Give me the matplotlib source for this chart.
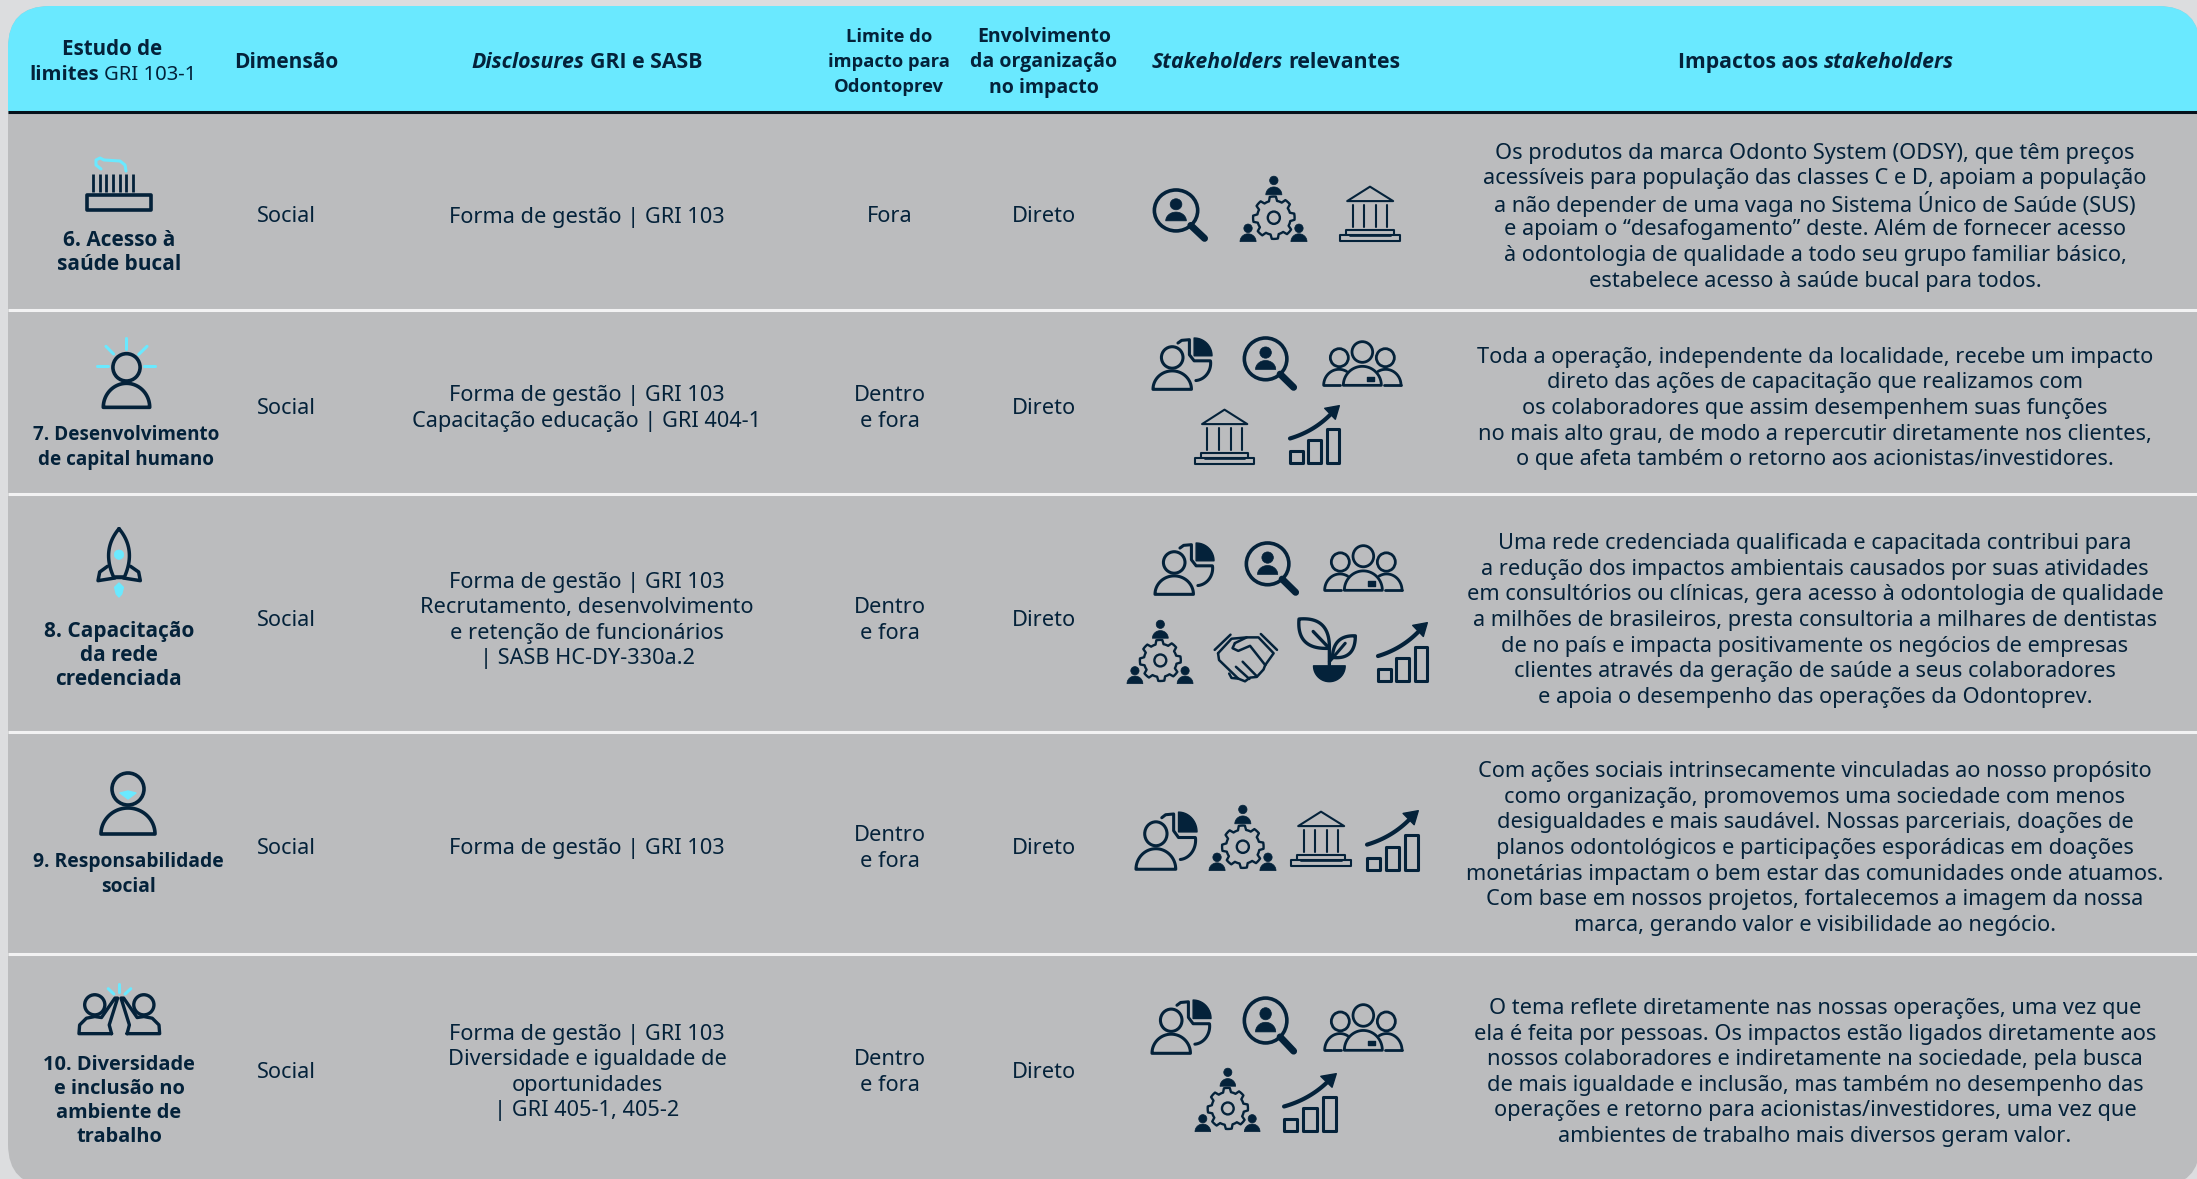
import numpy as np
import matplotlib
matplotlib.use("Agg")
import matplotlib.pyplot as plt
from matplotlib.patches import FancyBboxPatch, Ellipse, Polygon, Rectangle

W, H = 2197, 1179
NAVY = "#04223A"; CYAN = "#6AE9FF"; GREY = "#BBBCBE"; BG = "#DCDDDF"
plt.rcParams['font.family'] = ['Noto Sans', 'DejaVu Sans']
BOLDF = ['Open Sans', 'DejaVu Sans']

row_seps = [310, 494, 732, 954]
row_centers = [214.5, 406, 618, 846, 1070]

topics = [["6. Acesso à", "saúde bucal"],
          ["7. Desenvolvimento", "de capital humano"],
          ["8. Capacitação", "da rede", "credenciada"],
          ["9. Responsabilidade", "social"],
          ["10. Diversidade", "e inclusão no", "ambiente de", "trabalho"]]
topic_x = [119, 126, 119, 128, 119]
topic_y = [238, 433, 629, 860, 1062]
topic_size = [15.0, 13.6, 15.0, 13.9, 14.4]
dimension = ["Social"] * 5
disclosures = [["Forma de gestão | GRI 103"],
               ["Forma de gestão | GRI 103", "Capacitação educação | GRI 404-1"],
               ["Forma de gestão | GRI 103", "Recrutamento, desenvolvimento",
                "e retenção de funcionários", "| SASB HC-DY-330a.2"],
               ["Forma de gestão | GRI 103"],
               ["Forma de gestão | GRI 103", "Diversidade e igualdade de",
                "oportunidades", "| GRI 405-1, 405-2"]]
limite = [["Fora"], ["Dentro", "e fora"], ["Dentro", "e fora"], ["Dentro", "e fora"], ["Dentro", "e fora"]]
envolvimento = ["Direto"] * 5
impactos = [
    ["Os produtos da marca Odonto System (ODSY), que têm preços",
     "acessíveis para população das classes C e D, apoiam a população",
     "a não depender de uma vaga no Sistema Único de Saúde (SUS)",
     "e apoiam o “desafogamento” deste. Além de fornecer acesso",
     "à odontologia de qualidade a todo seu grupo familiar básico,",
     "estabelece acesso à saúde bucal para todos."],
    ["Toda a operação, independente da localidade, recebe um impacto",
     "direto das ações de capacitação que realizamos com",
     "os colaboradores que assim desempenhem suas funções",
     "no mais alto grau, de modo a repercutir diretamente nos clientes,",
     "o que afeta também o retorno aos acionistas/investidores."],
    ["Uma rede credenciada qualificada e capacitada contribui para",
     "a redução dos impactos ambientais causados por suas atividades",
     "em consultórios ou clínicas, gera acesso à odontologia de qualidade",
     "a milhões de brasileiros, presta consultoria a milhares de dentistas",
     "de no país e impacta positivamente os negócios de empresas",
     "clientes através da geração de saúde a seus colaboradores",
     "e apoia o desempenho das operações da Odontoprev."],
    ["Com ações sociais intrinsecamente vinculadas ao nosso propósito",
     "como organização, promovemos uma sociedade com menos",
     "desigualdades e mais saudável. Nossas parceriais, doações de",
     "planos odontológicos e participações esporádicas em doações",
     "monetárias impactam o bem estar das comunidades onde atuamos.",
     "Com base em nossos projetos, fortalecemos a imagem da nossa",
     "marca, gerando valor e visibilidade ao negócio."],
    ["O tema reflete diretamente nas nossas operações, uma vez que",
     "ela é feita por pessoas. Os impactos estão ligados diretamente aos",
     "nossos colaboradores e indiretamente na sociedade, pela busca",
     "de mais igualdade e inclusão, mas também no desempenho das",
     "operações e retorno para acionistas/investidores, uma vez que",
     "ambientes de trabalho mais diversos geram valor."]]

fig = plt.figure(figsize=(W/100, H/100), dpi=100, facecolor=BG)
ax = fig.add_axes([0, 0, 1, 1])
ax.set_xlim(0, W); ax.set_ylim(H, 0); ax.axis("off")

panel = FancyBboxPatch((50, 48), 2108, 1096, boxstyle="round,pad=42,rounding_size=42",
                       fc=GREY, ec="none", zorder=0)
ax.add_patch(panel)
hdr = Rectangle((0, 0), W, 111, fc=CYAN, ec="none", zorder=0.5)
ax.add_patch(hdr); hdr.set_clip_path(panel)
ax.plot([8, W], [112, 112], color="#05101A", lw=2.2, solid_capstyle="butt", zorder=1)
for y in row_seps:
    ax.plot([8, W], [y, y], color="#F2F2F3", lw=2.2, solid_capstyle="butt", zorder=1)

BODY = 15.65; HEAD = 15.3

def lines(items, cx, cy, step=25.6, size=BODY, weight="normal", family=None):
    n = len(items)
    for i, s in enumerate(items):
        ax.text(cx, cy + (i - (n-1)/2)*step, s, ha="center", va="center_baseline", fontsize=size,
                color=NAVY, fontweight=weight, zorder=3, family=family or plt.rcParams['font.family'])

def rich(parts, cx, cy, size=HEAD):
    r = fig.canvas.get_renderer()
    objs = []; total = 0
    for s, w, st in parts:
        fam = BOLDF if w == "bold" else plt.rcParams['font.family']
        t = ax.text(0, cy, s, fontsize=size, fontweight=w, fontstyle=st, color=NAVY, family=fam,
                    va="center_baseline", ha="left", zorder=3)
        wd = t.get_window_extent(r).width
        objs.append((t, wd)); total += wd
    gap = size * 0.36
    total += gap * (len(parts) - 1)
    x = cx - total/2
    for t, wd in objs:
        t.set_x(x); x += wd + gap

B = "bold"; RG = "normal"
rich([("Estudo de", B, "normal")], 112, 47, size=14.8)
rich([("limites", B, "normal"), ("GRI 103-1", RG, "normal")], 113, 72, size=14.6)
rich([("Dimensão", B, "normal")], 286, 60, size=15.0)
rich([("Disclosures", B, "italic"), ("GRI e SASB", B, "normal")], 587, 60)
lines(["Limite do", "impacto para", "Odontoprev"], 889, 60, step=25, size=13.2, weight=B, family=BOLDF)
lines(["Envolvimento", "da organização", "no impacto"], 1044, 60, step=25, size=14.0, weight=B, family=BOLDF)
rich([("Stakeholders", B, "italic"), ("relevantes", B, "normal")], 1276, 60)
rich([("Impactos aos", B, "normal"), ("stakeholders", B, "italic")], 1816, 60)

for i in range(5):
    cy = row_centers[i]
    for j, s in enumerate(topics[i]):
        ax.text(topic_x[i], topic_y[i] + j*24, s, ha="center", va="center_baseline", fontsize=topic_size[i],
                color=NAVY, fontweight="bold", family=BOLDF, zorder=3)
    ax.text(286, cy, dimension[i], ha="center", va="center_baseline", fontsize=BODY, color=NAVY, zorder=3)
    lines(disclosures[i], 587, cy)
    lines(limite[i], 890, cy)
    ax.text(1044, cy, envolvimento[i], ha="center", va="center_baseline", fontsize=BODY, color=NAVY, zorder=3)
    lines(impactos[i], 1815, cy)

class Ic:
    def __init__(self, x0, y0, sx, sy, ox=0, oy=0):
        self.x0, self.y0, self.sx, self.sy, self.ox, self.oy = x0, y0, sx, sy, ox, oy
    def P(self, pts):
        p = np.asarray(pts, float)
        return np.c_[self.x0 + (p[:, 0]-self.ox)*self.sx, self.y0 + (p[:, 1]-self.oy)*self.sy]
    def line(self, pts, lw=2.2, c=NAVY, cap="round"):
        q = self.P(pts)
        ax.plot(q[:, 0], q[:, 1], color=c, lw=lw, solid_capstyle=cap, solid_joinstyle="round", zorder=4)
    def poly(self, pts, fill=False, lw=2.2, c=NAVY):
        ax.add_patch(Polygon(self.P(pts), closed=True, fc=c if fill else "none", ec=c, lw=lw,
                             joinstyle="round", zorder=4))
    def curve(self, p0, p1, p2, **k):
        t = np.linspace(0, 1, 30)[:, None]
        a, b, c_ = map(lambda v: np.array(v, float), (p0, p1, p2))
        self.line((1-t)**2*a + 2*t*(1-t)*b + t*t*c_, **k)
    def arc(self, cx, cy, rx, ry, a0, a1, **k):
        t = np.radians(np.linspace(a0, a1, 60))
        self.line(np.c_[cx + rx*np.cos(t), cy - ry*np.sin(t)], **k)
    def circ(self, cx, cy, r, fill=False, lw=2.2, c=NAVY):
        ax.add_patch(Ellipse(tuple(self.P([[cx, cy]])[0]), 2*r*self.sx, 2*r*self.sy,
                             fc=c if fill else "none", ec=c, lw=lw, zorder=4))
    def dome(self, cx, base, rx, ry, fill=False, lw=2.2, c=NAVY):
        t = np.radians(np.linspace(0, 180, 50))
        self.poly(np.c_[cx + rx*np.cos(t), base - ry*np.sin(t)], fill=fill, lw=lw, c=c)

def ic(box, w, h, ox=0, oy=0):
    x0, y0, x1, y1 = box
    return Ic(x0, y0, (x1-x0)/w, (y1-y0)/h, ox, oy)

def pie_person(box):
    g = ic(box, 175, 158, 160, 112)
    g.circ(217, 173, 32); g.dome(217, 268, 57, 55)
    t = np.radians(np.linspace(0, 90, 30))
    g.poly(np.r_[[[282, 168]], np.c_[282+53*np.cos(t), 168-53*np.sin(t)]], fill=True, lw=1)
    g.line([[234, 130], [245, 122], [268, 120], [268, 165], [282, 183], [330, 183]])
    g.arc(283, 190, 48, 52, 5, -85)

def magnifier(box):
    g = ic(box, 160, 160, 430, 110)
    g.circ(497, 176, 63, lw=2.6)
    g.circ(497, 157, 17, fill=True, lw=0.5)
    g.dome(497, 208, 30, 27, fill=True, lw=0.5)
    g.line([[540, 222], [580, 262]], lw=5)

def group(box):
    g = ic(box, 237, 132, 668, 125)
    g.circ(786, 155, 31, lw=2); g.circ(717, 172, 27, lw=2); g.circ(855, 172, 27, lw=2)
    g.dome(786, 255, 57, 57, lw=2)
    g.arc(716, 255, 46, 48, 180, 60, lw=2); g.line([[670, 255], [720, 255]], lw=2)
    g.arc(856, 255, 46, 48, 0, 120, lw=2); g.line([[852, 255], [902, 255]], lw=2)
    g.poly([[800, 229], [820, 229], [820, 241], [800, 241]], fill=True, lw=1)

def bank(box):
    g = ic(box, 182, 167, 283, 328)
    L = 1.5
    g.poly([[374, 330], [307, 373], [442, 373]], lw=L)
    for x in [323, 357, 392, 425]:
        g.line([[x, 385], [x, 450]], lw=L)
    g.line([[303, 473], [303, 460], [445, 460], [445, 473]], lw=L)
    g.poly([[285, 475], [463, 475], [463, 493], [285, 493]], lw=L)
    g.line([[315, 478], [435, 478]], lw=1.2)

def chart(box):
    g = ic(box, 153, 178, 567, 315)
    g.poly([[570, 455], [608, 455], [608, 491], [570, 491]], lw=2.2)
    g.poly([[625, 422], [662, 422], [662, 491], [625, 491]], lw=2.2)
    g.poly([[680, 388], [717, 388], [717, 491], [680, 491]], lw=2.2)
    g.curve([570, 416], [640, 395], [690, 345], lw=3)
    g.poly([[718, 317], [674, 325], [706, 358]], fill=True, lw=1)

def gear(box):
    g = ic(box, 200, 193, 80, 960)
    n = 8
    a = np.linspace(0, 2*np.pi, 8*n+1)[:-1]
    r = np.roll(np.array([50, 50, 50, 50, 62, 62, 62, 62]*n, float), 2)
    g.poly(np.c_[181 + r*np.cos(a), 1082 + r*np.sin(a)], lw=1.7)
    g.circ(181, 1082, 18, lw=1.7)
    for cx, hy, base in [(181, 973, 1015), (104, 1113, 1152), (256, 1113, 1152)]:
        g.circ(cx, hy, 12.5, fill=True, lw=0.5)
        g.dome(cx, base, 24, 23, fill=True, lw=0.5)

def handshake(box):
    g = ic(box, 187, 142, 343, 1003)
    L = 1.8
    g.line([[345, 1050], [392, 1005]], lw=L); g.line([[482, 1003], [530, 1050]], lw=L)
    g.line([[355, 1060], [395, 1017], [440, 1013], [475, 1013], [520, 1060], [495, 1095]], lw=L)
    g.line([[355, 1060], [358, 1080], [415, 1135], [435, 1143], [450, 1132], [470, 1130], [490, 1108], [495, 1095]], lw=L)
    g.line([[405, 1030], [398, 1045], [415, 1053], [450, 1038], [495, 1095]], lw=L)
    g.line([[405, 1030], [440, 1013]], lw=L)
    g.line([[428, 1085], [470, 1128]], lw=L); g.line([[408, 1100], [448, 1136]], lw=L)
    g.line([[388, 1120], [395, 1133], [415, 1135]], lw=L)

def plant(box):
    g = ic(box, 172, 190, 595, 955)
    t = np.linspace(0, 1, 30)[:, None]
    a, b, c_ = np.array([598., 958.]), np.array([690., 950.]), np.array([688., 1045.])
    d = np.array([590., 1050.])
    g.poly(np.r_[(1-t)**2*a+2*t*(1-t)*b+t*t*c_, (1-t)**2*c_+2*t*(1-t)*d+t*t*a], lw=2.4)
    g.line([[640, 995], [688, 1045], [688, 1095]], lw=2.4)
    a, b, c_ = np.array([765., 1008.]), np.array([700., 1005.]), np.array([697., 1072.])
    d = np.array([765., 1080.])
    g.poly(np.r_[(1-t)**2*a+2*t*(1-t)*b+t*t*c_, (1-t)**2*c_+2*t*(1-t)*d+t*t*a], lw=2.4)
    g.line([[688, 1085], [735, 1030]], lw=2.2)
    u = np.radians(np.linspace(180, 360, 40))
    g.poly(np.c_[688 + 47*np.cos(u), 1097 - 47*np.sin(u)], fill=True, lw=1)

def toothbrush(box):
    g = ic(box, 66, 54, 86, 157)
    g.poly([[87, 195], [151, 195], [151, 210], [87, 210]], lw=2.6)
    for x in np.linspace(93, 133, 7):
        g.line([[x, 174], [x, 192]], lw=2, cap="butt")
    g.line([[101, 169], [96, 165], [96, 160], [100, 158], [104, 160], [120, 161], [125, 165], [126, 171]], lw=2.2, c=CYAN)

def person_rays(box):
    g = ic(box, 175, 213, 110, 55)
    g.circ(199, 143, 41, lw=2.6)
    g.dome(199, 263, 70, 72, lw=2.6)
    for p, q in [((199, 55), (199, 87)), ((137, 80), (160, 103)), ((261, 80), (236, 104)),
                 ((110, 140), (142, 140)), ((252, 138), (284, 138))]:
        g.line([p, q], lw=2.2, c=CYAN)

def rocket(box):
    g = ic(box, 130, 207, 52, 40)
    t = np.linspace(0, 1, 25)[:, None]
    top = np.array([117., 42.]); bl = np.array([101., 187.]); br = np.array([133., 187.])
    L = (1-t)**2*top + 2*t*(1-t)*np.array([65., 105.]) + t*t*bl
    R = (1-t)**2*br + 2*t*(1-t)*np.array([169., 105.]) + t*t*top
    g.line(np.r_[L, R], lw=2.5)
    g.line([[101, 187], [133, 187]], lw=2.5)
    g.line([[83, 155], [60, 172], [55, 198], [105, 190]], lw=2.5)
    g.line([[151, 155], [175, 172], [180, 198], [130, 190]], lw=2.5)
    g.circ(117, 120, 14, fill=True, lw=0.5, c=CYAN)
    g.poly([[117, 205], [130, 218], [125, 238], [117, 247], [109, 238], [104, 218]], fill=True, lw=1, c=CYAN)

def person_dot(box):
    g = ic(box, 56, 64)
    g.circ(28, 17, 16, lw=2.6)
    g.dome(28, 62, 27, 26, lw=2.6)
    g.poly([[20, 21], [28, 19], [36, 21], [28, 27]], fill=True, lw=1, c=CYAN)

def hifive(box):
    g = ic(box, 232, 152, 40, 28)
    for sgn in (1, -1):
        X = lambda x: 148 + sgn*(x-148)
        g.circ(X(75), 90, 30, lw=2.4)
        g.line([[X(125), 176], [X(118), 150], [X(143), 70],
                [X(135), 70], [X(95), 128], [X(75), 125], [X(50), 130], [X(30), 150], [X(28), 176], [X(125), 176]], lw=2.4)
    for p, q in [((148, 28), (148, 52)), ((115, 42), (132, 58)), ((182, 42), (165, 58))]:
        g.line([p, q], lw=2.2, c=CYAN)

magnifier((1153, 189, 1208, 241)); gear((1240, 176, 1307, 242)); bank((1339, 186, 1401, 242))
pie_person((1153, 337, 1212, 390)); magnifier((1243, 337, 1297, 390)); group((1323, 342, 1402, 386))
bank((1194, 409, 1255, 465)); chart((1289, 405, 1340, 464))
pie_person((1155, 542, 1214, 595)); magnifier((1245, 542, 1299, 595)); group((1324, 546, 1403, 591))
gear((1127, 620, 1193, 684)); handshake((1214, 634, 1277, 682)); plant((1298, 618, 1356, 682)); chart((1377, 622, 1428, 682))
pie_person((1136, 811, 1197, 870)); gear((1209, 805, 1276, 871)); bank((1290, 811, 1352, 867)); chart((1366, 810, 1419, 871))
pie_person((1152, 999, 1211, 1054)); magnifier((1243, 997, 1297, 1054)); group((1324, 1005, 1403, 1051))
gear((1195, 1068, 1260, 1132)); chart((1283, 1073, 1337, 1132))
toothbrush((86, 157, 152, 211)); person_rays((97, 338, 155, 409)); rocket((97, 528, 141, 597))
person_dot((100, 772, 156, 836)); hifive((83, 984, 161, 1035))

fig.savefig("out.png", dpi=100, facecolor=BG)
